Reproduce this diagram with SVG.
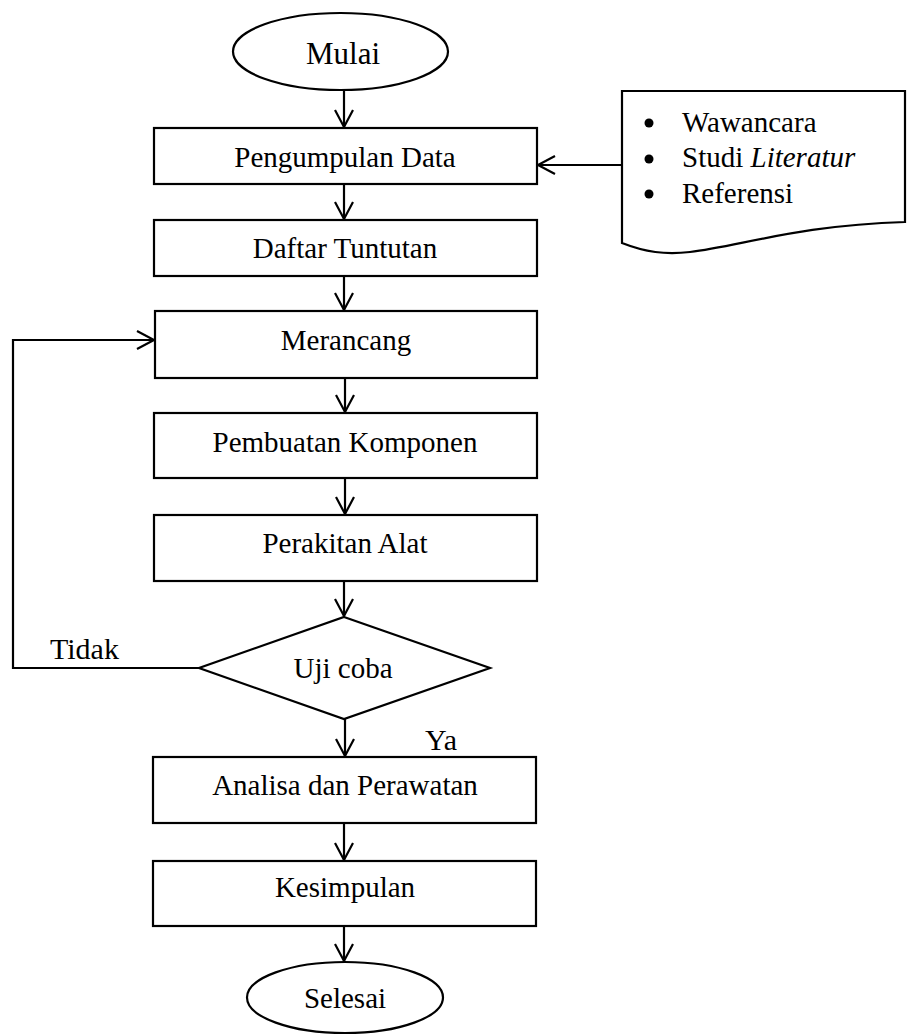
<svg xmlns="http://www.w3.org/2000/svg" width="907" height="1035" viewBox="0 0 907 1035">
<style>
.s{fill:#fff;stroke:#000;stroke-width:2.2}
.t{font-family:"Liberation Serif","Times New Roman",serif;font-size:29px;fill:#000;text-anchor:middle}
.l{font-family:"Liberation Serif","Times New Roman",serif;font-size:29px;fill:#000}
.c{fill:none;stroke:#000;stroke-width:2.2}
</style>
<defs>
<marker id="ah" markerUnits="userSpaceOnUse" markerWidth="40" markerHeight="40" refX="0" refY="0" viewBox="-20 -20 40 40" orient="auto" overflow="visible">
<path d="M-17,-9 L0,0 L-17,9" fill="none" stroke="#000" stroke-width="2.2"/>
</marker>
</defs>
<rect width="907" height="1035" fill="#fff"/>
<g id="connectors">
<line class="c" x1="344" y1="90" x2="344" y2="127" marker-end="url(#ah)"/>
<line class="c" x1="344" y1="184" x2="344" y2="219" marker-end="url(#ah)"/>
<line class="c" x1="344" y1="276" x2="344" y2="310" marker-end="url(#ah)"/>
<line class="c" x1="345" y1="378" x2="345" y2="412" marker-end="url(#ah)"/>
<line class="c" x1="345" y1="478" x2="345" y2="514" marker-end="url(#ah)"/>
<line class="c" x1="344" y1="581" x2="344" y2="616" marker-end="url(#ah)"/>
<line class="c" x1="345" y1="719" x2="345" y2="756" marker-end="url(#ah)"/>
<line class="c" x1="344" y1="823" x2="344" y2="860" marker-end="url(#ah)"/>
<line class="c" x1="344" y1="926" x2="344" y2="961" marker-end="url(#ah)"/>
<line class="c" x1="622" y1="165" x2="538" y2="165" marker-end="url(#ah)"/>
<polyline class="c" points="199,668 13,668 13,340 154,340" marker-end="url(#ah)"/>
<text class="l" x="50" y="659" style="font-size:30px">Tidak</text>
<text class="l" x="425" y="750" style="font-size:30px">Ya</text>
</g>
<g id="mulai">
<ellipse class="s" cx="340.5" cy="51.5" rx="107.5" ry="38.5"/>
<text class="t" x="343" y="64" style="font-size:31px">Mulai</text>
</g>
<g id="pengumpulan">
<rect class="s" x="154" y="128" width="383" height="56"/>
<text class="t" x="345" y="167">Pengumpulan Data</text>
</g>
<g id="sumber">
<path class="s" d="M622,243 V91 H905 V222 C800,225 740,246 690,252 C665,255 645,252 622,243 Z"/>
<circle cx="649" cy="123" r="4.5"/>
<circle cx="649" cy="159" r="4.5"/>
<circle cx="649" cy="194" r="4.5"/>
<text class="l" x="682" y="132">Wawancara</text>
<text class="l" x="682" y="167">Studi <tspan font-style="italic">Literatur</tspan></text>
<text class="l" x="682" y="203">Referensi</text>
</g>
<g id="daftar">
<rect class="s" x="154" y="220" width="383" height="56"/>
<text class="t" x="345" y="258">Daftar Tuntutan</text>
</g>
<g id="merancang">
<rect class="s" x="155" y="311" width="382" height="67"/>
<text class="t" x="346" y="350">Merancang</text>
</g>
<g id="pembuatan">
<rect class="s" x="154" y="413" width="383" height="65"/>
<text class="t" x="345" y="452">Pembuatan Komponen</text>
</g>
<g id="perakitan">
<rect class="s" x="154" y="515" width="383" height="66"/>
<text class="t" x="345" y="553">Perakitan Alat</text>
</g>
<g id="ujicoba">
<polygon class="s" points="344,617 490,668 344,719 199,668"/>
<text class="t" x="343" y="678">Uji coba</text>
</g>
<g id="analisa">
<rect class="s" x="153" y="757" width="383" height="66"/>
<text class="t" x="345" y="795">Analisa dan Perawatan</text>
</g>
<g id="kesimpulan">
<rect class="s" x="153" y="861" width="383" height="65"/>
<text class="t" x="345" y="897">Kesimpulan</text>
</g>
<g id="selesai">
<ellipse class="s" cx="345" cy="997.5" rx="98" ry="35.5"/>
<text class="t" x="345" y="1008">Selesai</text>
</g>
</svg>
